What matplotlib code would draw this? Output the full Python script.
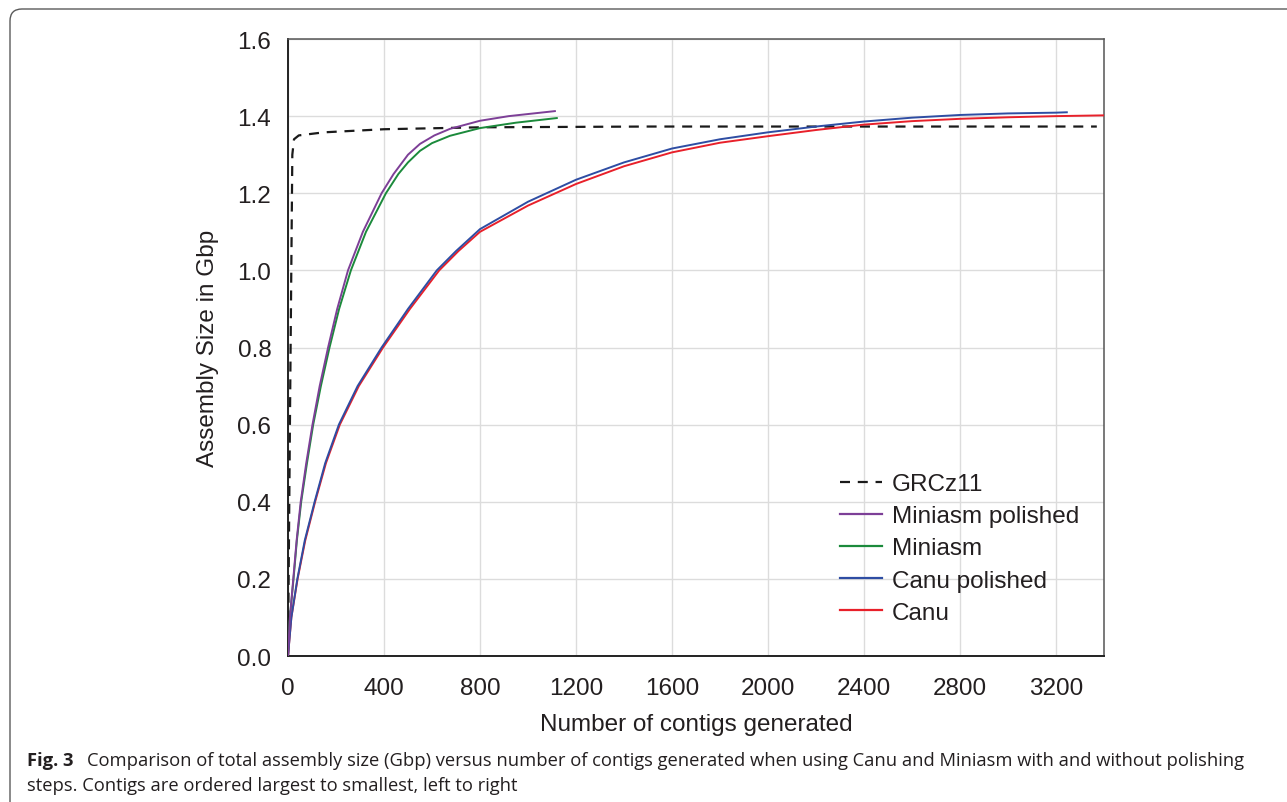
import matplotlib.pyplot as plt
from matplotlib.patches import FancyBboxPatch
from matplotlib.transforms import IdentityTransform
from matplotlib.lines import Line2D

plt.rcParams["font.family"] = ["Liberation Sans", "DejaVu Sans"]

# GRCz11 reference (dashed)
grc_x = [0, 8, 18, 25, 45, 150, 400, 800, 1500, 3370]
grc_y = [0.0, 0.6, 1.30, 1.34, 1.35, 1.358, 1.366, 1.371, 1.373, 1.373]

# Miniasm polished
mp_x = [0, 8, 22, 36, 53, 76, 102, 132, 167, 205, 250, 312, 390, 440, 500, 550, 610, 675, 800, 920, 1112]
mp_y = [0.0, 0.1, 0.2, 0.3, 0.4, 0.5, 0.6, 0.7, 0.8, 0.9, 1.0, 1.1, 1.2, 1.25, 1.30, 1.328, 1.35, 1.367, 1.388, 1.40, 1.413]

# Miniasm
mi_x = [0, 8, 23, 37, 55, 79, 105, 137, 173, 213, 262, 325, 408, 460, 500, 550, 600, 675, 800, 950, 1120]
mi_y = [0.0, 0.1, 0.2, 0.3, 0.4, 0.5, 0.6, 0.7, 0.8, 0.9, 1.0, 1.1, 1.2, 1.25, 1.28, 1.31, 1.33, 1.349, 1.369, 1.383, 1.395]

# Canu polished
cp_x = [0, 14, 39, 70, 111, 155, 212, 290, 390, 500, 620, 700, 800, 1000, 1200, 1400, 1600, 1800, 2000,
        2200, 2400, 2600, 2800, 3000, 3200, 3245]
cp_y = [0.0, 0.1, 0.2, 0.3, 0.4, 0.5, 0.6, 0.7, 0.8, 0.9, 1.0, 1.05, 1.107, 1.178, 1.235, 1.280, 1.316, 1.340,
        1.358, 1.373, 1.386, 1.396, 1.403, 1.407, 1.409, 1.41]

# Canu
ca_x = [0, 14, 40, 72, 113, 158, 216, 295, 396, 508, 630, 710, 800, 1000, 1200, 1400, 1600, 1800, 2000,
        2200, 2400, 2600, 2800, 3000, 3200, 3400]
ca_y = [0.0, 0.1, 0.2, 0.3, 0.4, 0.5, 0.6, 0.7, 0.8, 0.9, 1.0, 1.05, 1.100, 1.168, 1.224, 1.270, 1.306, 1.331,
        1.348, 1.364, 1.378, 1.387, 1.393, 1.397, 1.400, 1.402]

x_ticks = [0, 400, 800, 1200, 1600, 2000, 2400, 2800, 3200]
y_ticks = [0.0, 0.2, 0.4, 0.6, 0.8, 1.0, 1.2, 1.4, 1.6]

txt = "#231f20"
fs = 17.5

fig = plt.figure(figsize=(12.87, 8.03), dpi=100)
ax = fig.add_axes([288 / 1287, 1 - 657 / 803, (1104 - 288) / 1287, (657 - 40) / 803])

ax.plot(grc_x, grc_y, color="#1a1a1a", lw=1.6, ls=(0, (4.5, 3.5)), zorder=3)
ax.plot(ca_x, ca_y, color="#e8202a", lw=1.4, zorder=4)
ax.plot(cp_x, cp_y, color="#2e4da3", lw=1.4, zorder=5)
ax.plot(mi_x, mi_y, color="#1b8a3b", lw=1.4, zorder=4)
ax.plot(mp_x, mp_y, color="#7d3f97", lw=1.4, zorder=5)

ax.set_xlim(0, 3400)
ax.set_ylim(0, 1.6)
ax.set_xticks(x_ticks)
ax.set_yticks(y_ticks)
ax.set_yticklabels([f"{v:.1f}" for v in y_ticks])
ax.tick_params(length=0, labelsize=fs, labelcolor=txt)
ax.tick_params(axis="y", pad=12)
ax.tick_params(axis="x", pad=15)
ax.grid(True, color="#dcdcdc", lw=1.0)
ax.set_axisbelow(True)
for side in ["left", "bottom"]:
    ax.spines[side].set_color("#222222")
    ax.spines[side].set_linewidth(1.4)
for side in ["top", "right"]:
    ax.spines[side].set_color("#555555")
    ax.spines[side].set_linewidth(1.1)

ax.set_xlabel("Number of contigs generated", fontsize=fs, color=txt, labelpad=10)
ax.set_ylabel("Assembly Size in Gbp", fontsize=fs, color=txt, labelpad=13)

# legend in the original order
handles = [
    Line2D([], [], color="#1a1a1a", lw=1.6, ls=(0, (4.5, 3.5))),
    Line2D([], [], color="#7d3f97", lw=1.6),
    Line2D([], [], color="#1b8a3b", lw=1.6),
    Line2D([], [], color="#2e4da3", lw=1.6),
    Line2D([], [], color="#e8202a", lw=1.6),
]
labels = ["GRCz11", "Miniasm polished", "Miniasm", "Canu polished", "Canu"]
leg = ax.legend(handles, labels, loc="upper left", bbox_to_anchor=((840 - 288) / 816, (657 - 474) / 617),
                frameon=False, fontsize=fs, handlelength=1.73, handletextpad=0.41,
                labelspacing=0.42, borderpad=0, borderaxespad=0)
for t in leg.get_texts():
    t.set_color(txt)

# border of the figure panel
fig.add_artist(FancyBboxPatch((10, -30), 1320, 793 + 30, boxstyle="round,pad=0,rounding_size=12",
                              transform=IdentityTransform(), fill=False, ec="#5a5a5a", lw=1.0))

# caption
cap_font = "Open Sans"
cap_size = 13.2
fig.text(27 / 1287, 1 - 766 / 803, "Fig. 3", family=cap_font, fontsize=cap_size, weight="bold", color=txt)
fig.text(87 / 1287, 1 - 766 / 803,
         "Comparison of total assembly size (Gbp) versus number of contigs generated when using Canu and Miniasm with and without polishing",
         family=cap_font, fontsize=cap_size, color=txt)
fig.text(27 / 1287, 1 - 791 / 803, "steps. Contigs are ordered largest to smallest, left to right",
         family=cap_font, fontsize=cap_size, color=txt)

fig.savefig("out.png", dpi=100)
